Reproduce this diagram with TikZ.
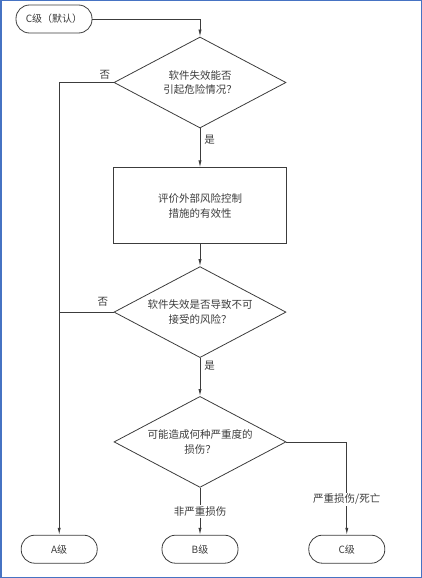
\documentclass[tikz,border=0pt]{standalone}
\usepackage{fontspec}
\newfontfamily\cjk{Noto Sans CJK SC}
\usepackage{xcolor}
\usetikzlibrary{arrows.meta,positioning,shapes.geometric}
\definecolor{FrameBlue}{RGB}{70,115,195}
\definecolor{InkGray}{RGB}{60,60,60}
\begin{document}
\begin{tikzpicture}[>={Latex[length=7pt,width=3.2pt]},x=1pt,y=1pt,every node/.style={font=\cjk\fontsize{10.5}{14.5}\selectfont,text=InkGray}]
\tikzset{term/.style={draw=InkGray,rounded corners=13.5pt,minimum width=76pt,minimum height=28pt,inner sep=2pt,font=\cjk\fontsize{10}{12}\selectfont},decide/.style={draw=InkGray,diamond,aspect=1.9,minimum width=172pt,minimum height=91pt,inner sep=0pt,align=center},proc/.style={draw=InkGray,minimum width=173pt,minimum height=76pt,align=center},lbl/.style={fill=white,inner sep=1.5pt},flow/.style={draw=InkGray,line width=0.8pt}}
\useasboundingbox (0,0) rectangle (422,-578);
\draw[FrameBlue,line width=1.5pt] (0.75,-0.75) rectangle (421.25,-577.25);
\node[term,line width=0.8pt] (start) at (54,-19) {C级（默认）};
\node[decide,line width=0.8pt] (q1) at (200,-82.5) {软件失效能否\\引起危险情况？};
\node[proc,line width=0.8pt,below=39pt of q1] (eval) {评价外部风险控制\\措施的有效性};
\node[decide,line width=0.8pt,below=22pt of eval] (q2) {软件失效是否导致不可\\接受的风险？};
\node[decide,line width=0.8pt,below=38pt of q2] (q3) {可能造成何种严重度的\\损伤？};
\node[term,line width=0.8pt,below=47pt of q3] (lvB) {B级};
\node[term,line width=0.8pt,left=64pt of lvB] (lvA) {A级};
\node[term,line width=0.8pt,right=70pt of lvB] (lvC) {C级};
\draw[flow,->] (start.east) -| (q1.north);
\draw[flow,->] (q1.west) -| node[pos=0,anchor=south east,inner sep=3pt]{否} (lvA.north);
\draw[flow,->] (q1) -- node[pos=0.28,right,inner sep=4pt]{是} (eval);
\draw[flow,->] (eval) -- (q2);
\draw[flow] (q2.west) -- node[pos=0,anchor=south east,inner sep=5pt]{否} (q2.west -| lvA.north);
\draw[flow,->] (q2) -- node[pos=0.2,right,inner sep=4pt]{是} (q3);
\draw[flow,->] (q3) -- node[lbl]{非严重损伤} (lvB);
\draw[flow,->] (q3.east) -| node[lbl,pos=0.81]{严重损伤/死亡} (lvC.north);
\end{tikzpicture}
\end{document}
